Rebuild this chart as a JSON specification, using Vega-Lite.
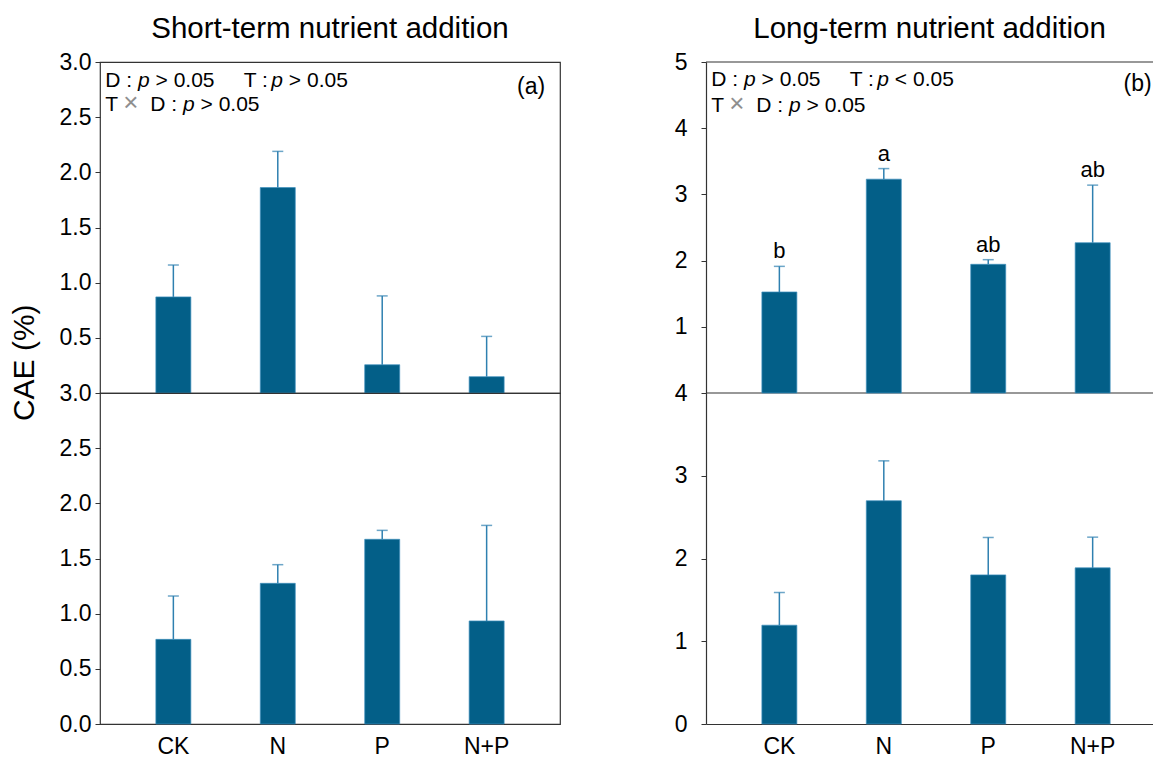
{
  "$schema": "https://vega.github.io/schema/vega-lite/v6.json",
  "padding": {"left": 10, "top": 12, "right": 0, "bottom": 0},
  "autosize": {"type": "pad"},
  "background": "white",
  "datasets": {
    "bars": [
      {"panel": "S1", "cat": "CK", "mean": 0.871, "upper": 1.16, "sig": ""},
      {"panel": "S1", "cat": "N", "mean": 1.862, "upper": 2.19, "sig": ""},
      {"panel": "S1", "cat": "P", "mean": 0.256, "upper": 0.88, "sig": ""},
      {"panel": "S1", "cat": "N+P", "mean": 0.148, "upper": 0.513, "sig": ""},
      {"panel": "S2", "cat": "CK", "mean": 0.767, "upper": 1.16, "sig": ""},
      {"panel": "S2", "cat": "N", "mean": 1.275, "upper": 1.444, "sig": ""},
      {"panel": "S2", "cat": "P", "mean": 1.674, "upper": 1.755, "sig": ""},
      {"panel": "S2", "cat": "N+P", "mean": 0.934, "upper": 1.8, "sig": ""},
      {"panel": "L1", "cat": "CK", "mean": 1.526, "upper": 1.913, "sig": "b"},
      {"panel": "L1", "cat": "N", "mean": 3.23, "upper": 3.39, "sig": "a"},
      {"panel": "L1", "cat": "P", "mean": 1.944, "upper": 2.014, "sig": "ab"},
      {"panel": "L1", "cat": "N+P", "mean": 2.27, "upper": 3.14, "sig": "ab"},
      {"panel": "L2", "cat": "CK", "mean": 1.194, "upper": 1.589, "sig": ""},
      {"panel": "L2", "cat": "N", "mean": 2.698, "upper": 3.18, "sig": ""},
      {"panel": "L2", "cat": "P", "mean": 1.802, "upper": 2.254, "sig": ""},
      {"panel": "L2", "cat": "N+P", "mean": 1.887, "upper": 2.258, "sig": ""}
    ],
    "one": [{"k": 1}]
  },
  "spacing": 113,
  "hconcat": [
    {
      "title": {"text": "CAE (%)", "orient": "left", "fontSize": 30, "offset": 18, "frame": "bounds", "anchor": "middle", "dx": 23},
      "spacing": 0,
      "bounds": "flush",
      "vconcat": [
        {
          "width": 460, "height": 331,
          "title": {"text": "Short-term nutrient addition"},
          "layer": [
            {
              "data": {"name": "bars"}, "transform": [{"filter": "datum.panel === 'S1'"}],
              "mark": {"type": "bar", "fill": "#035f88", "stroke": "#3f8fbd", "strokeWidth": 0.7},
              "encoding": {
                "x": {"field": "cat", "type": "nominal", "scale": {"domain": ["CK", "N", "P", "N+P"], "paddingInner": 0.665, "paddingOuter": 0.535}, "axis": null},
                "y": {"field": "mean", "type": "quantitative", "title": null, "scale": {"domain": [0, 3], "nice": false}, "axis": {"values": [0.5, 1, 1.5, 2, 2.5, 3], "format": ".1f", "labelPadding": 4}}
              }
            },
            {
              "data": {"name": "bars"}, "transform": [{"filter": "datum.panel === 'S1'"}],
              "mark": {"type": "rule", "color": "#2f80b0", "strokeWidth": 1.5},
              "encoding": {"x": {"field": "cat", "type": "nominal"}, "y": {"field": "mean", "type": "quantitative"}, "y2": {"field": "upper"}}
            },
            {
              "data": {"name": "bars"}, "transform": [{"filter": "datum.panel === 'S1'"}],
              "mark": {"type": "tick", "color": "#2f80b0", "thickness": 1.5, "size": 11},
              "encoding": {"x": {"field": "cat", "type": "nominal"}, "y": {"field": "upper", "type": "quantitative"}}
            },
            {"data": {"name": "one"}, "mark": {"type": "text", "align": "left", "fontSize": 21, "dx": -68}, "encoding": {"x": {"datum": "CK"}, "y": {"datum": 2.773}, "text": {"value": "D :"}}},
            {"data": {"name": "one"}, "mark": {"type": "text", "align": "left", "fontSize": 21, "dx": -35.3, "fontStyle": "italic"}, "encoding": {"x": {"datum": "CK"}, "y": {"datum": 2.773}, "text": {"value": "p"}}},
            {"data": {"name": "one"}, "mark": {"type": "text", "align": "left", "fontSize": 21, "dx": -17.8}, "encoding": {"x": {"datum": "CK"}, "y": {"datum": 2.773}, "text": {"value": "> 0.05"}}},
            {"data": {"name": "one"}, "mark": {"type": "text", "align": "left", "fontSize": 21, "dx": 70.3}, "encoding": {"x": {"datum": "CK"}, "y": {"datum": 2.773}, "text": {"value": "T :"}}},
            {"data": {"name": "one"}, "mark": {"type": "text", "align": "left", "fontSize": 21, "dx": 98, "fontStyle": "italic"}, "encoding": {"x": {"datum": "CK"}, "y": {"datum": 2.773}, "text": {"value": "p"}}},
            {"data": {"name": "one"}, "mark": {"type": "text", "align": "left", "fontSize": 21, "dx": 115.5}, "encoding": {"x": {"datum": "CK"}, "y": {"datum": 2.773}, "text": {"value": "> 0.05"}}},
            {"data": {"name": "one"}, "mark": {"type": "text", "align": "left", "fontSize": 21, "dx": -68}, "encoding": {"x": {"datum": "CK"}, "y": {"datum": 2.555}, "text": {"value": "T"}}},
            {"data": {"name": "one"}, "mark": {"type": "text", "align": "left", "fontSize": 26, "dx": -50, "color": "#8f8f8f"}, "encoding": {"x": {"datum": "CK"}, "y": {"datum": 2.555}, "text": {"value": "×"}}},
            {"data": {"name": "one"}, "mark": {"type": "text", "align": "left", "fontSize": 21, "dx": -23}, "encoding": {"x": {"datum": "CK"}, "y": {"datum": 2.555}, "text": {"value": "D :"}}},
            {"data": {"name": "one"}, "mark": {"type": "text", "align": "left", "fontSize": 21, "dx": 9.7, "fontStyle": "italic"}, "encoding": {"x": {"datum": "CK"}, "y": {"datum": 2.555}, "text": {"value": "p"}}},
            {"data": {"name": "one"}, "mark": {"type": "text", "align": "left", "fontSize": 21, "dx": 27.2}, "encoding": {"x": {"datum": "CK"}, "y": {"datum": 2.555}, "text": {"value": "> 0.05"}}},
            {"data": {"name": "one"}, "mark": {"type": "text", "align": "right", "fontSize": 23, "dx": 58.5}, "encoding": {"x": {"datum": "N+P"}, "y": {"datum": 2.71}, "text": {"value": "(a)"}}}
          ]
        },
        {
          "width": 460, "height": 331,
          "layer": [
            {
              "data": {"name": "bars"}, "transform": [{"filter": "datum.panel === 'S2'"}],
              "mark": {"type": "bar", "fill": "#035f88", "stroke": "#3f8fbd", "strokeWidth": 0.7},
              "encoding": {
                "x": {"field": "cat", "type": "nominal", "title": null, "scale": {"domain": ["CK", "N", "P", "N+P"], "paddingInner": 0.665, "paddingOuter": 0.535}, "axis": {"labelAngle": 0, "ticks": false, "domain": false, "labelPadding": 11}},
                "y": {"field": "mean", "type": "quantitative", "title": null, "scale": {"domain": [0, 3], "nice": false}, "axis": {"values": [0, 0.5, 1, 1.5, 2, 2.5, 3], "format": ".1f", "labelPadding": 4}}
              }
            },
            {
              "data": {"name": "bars"}, "transform": [{"filter": "datum.panel === 'S2'"}],
              "mark": {"type": "rule", "color": "#2f80b0", "strokeWidth": 1.5},
              "encoding": {"x": {"field": "cat", "type": "nominal"}, "y": {"field": "mean", "type": "quantitative"}, "y2": {"field": "upper"}}
            },
            {
              "data": {"name": "bars"}, "transform": [{"filter": "datum.panel === 'S2'"}],
              "mark": {"type": "tick", "color": "#2f80b0", "thickness": 1.5, "size": 11},
              "encoding": {"x": {"field": "cat", "type": "nominal"}, "y": {"field": "upper", "type": "quantitative"}}
            }
          ]
        }
      ]
    },
    {
      "spacing": 0,
      "bounds": "flush",
      "vconcat": [
        {
          "width": 447, "height": 331,
          "view": {"stroke": null},
          "title": {"text": "Long-term nutrient addition"},
          "layer": [
            {"data": {"name": "one"}, "mark": {"type": "rule", "color": "#333", "strokeWidth": 1.2}, "encoding": {"y": {"datum": 5}}},
            {"data": {"name": "one"}, "mark": {"type": "rule", "color": "#333", "strokeWidth": 1.2}, "encoding": {"y": {"datum": 0}}},
            {
              "data": {"name": "bars"}, "transform": [{"filter": "datum.panel === 'L1'"}],
              "mark": {"type": "bar", "fill": "#035f88", "stroke": "#3f8fbd", "strokeWidth": 0.7},
              "encoding": {
                "x": {"field": "cat", "type": "nominal", "scale": {"domain": ["CK", "N", "P", "N+P"], "paddingInner": 0.665, "paddingOuter": 0.4727, "align": 0.566}, "axis": null},
                "y": {"field": "mean", "type": "quantitative", "title": null, "scale": {"domain": [0, 5], "nice": false}, "axis": {"values": [1, 2, 3, 4, 5], "format": "d", "labelPadding": 14, "domain": true}}
              }
            },
            {
              "data": {"name": "bars"}, "transform": [{"filter": "datum.panel === 'L1'"}],
              "mark": {"type": "rule", "color": "#2f80b0", "strokeWidth": 1.5},
              "encoding": {"x": {"field": "cat", "type": "nominal"}, "y": {"field": "mean", "type": "quantitative"}, "y2": {"field": "upper"}}
            },
            {
              "data": {"name": "bars"}, "transform": [{"filter": "datum.panel === 'L1'"}],
              "mark": {"type": "tick", "color": "#2f80b0", "thickness": 1.5, "size": 11},
              "encoding": {"x": {"field": "cat", "type": "nominal"}, "y": {"field": "upper", "type": "quantitative"}}
            },
            {
              "data": {"name": "bars"}, "transform": [{"filter": "datum.panel === 'L1'"}],
              "mark": {"type": "text", "fontSize": 22, "dy": -8, "baseline": "alphabetic"},
              "encoding": {"x": {"field": "cat", "type": "nominal"}, "y": {"field": "upper", "type": "quantitative"}, "text": {"field": "sig"}}
            },
            {"data": {"name": "one"}, "mark": {"type": "text", "align": "left", "fontSize": 21, "dx": -68}, "encoding": {"x": {"datum": "CK"}, "y": {"datum": 4.63}, "text": {"value": "D :"}}},
            {"data": {"name": "one"}, "mark": {"type": "text", "align": "left", "fontSize": 21, "dx": -35.3, "fontStyle": "italic"}, "encoding": {"x": {"datum": "CK"}, "y": {"datum": 4.63}, "text": {"value": "p"}}},
            {"data": {"name": "one"}, "mark": {"type": "text", "align": "left", "fontSize": 21, "dx": -17.8}, "encoding": {"x": {"datum": "CK"}, "y": {"datum": 4.63}, "text": {"value": "> 0.05"}}},
            {"data": {"name": "one"}, "mark": {"type": "text", "align": "left", "fontSize": 21, "dx": 70.3}, "encoding": {"x": {"datum": "CK"}, "y": {"datum": 4.63}, "text": {"value": "T :"}}},
            {"data": {"name": "one"}, "mark": {"type": "text", "align": "left", "fontSize": 21, "dx": 98, "fontStyle": "italic"}, "encoding": {"x": {"datum": "CK"}, "y": {"datum": 4.63}, "text": {"value": "p"}}},
            {"data": {"name": "one"}, "mark": {"type": "text", "align": "left", "fontSize": 21, "dx": 115.5}, "encoding": {"x": {"datum": "CK"}, "y": {"datum": 4.63}, "text": {"value": "< 0.05"}}},
            {"data": {"name": "one"}, "mark": {"type": "text", "align": "left", "fontSize": 21, "dx": -68}, "encoding": {"x": {"datum": "CK"}, "y": {"datum": 4.24}, "text": {"value": "T"}}},
            {"data": {"name": "one"}, "mark": {"type": "text", "align": "left", "fontSize": 26, "dx": -50, "color": "#8f8f8f"}, "encoding": {"x": {"datum": "CK"}, "y": {"datum": 4.24}, "text": {"value": "×"}}},
            {"data": {"name": "one"}, "mark": {"type": "text", "align": "left", "fontSize": 21, "dx": -23}, "encoding": {"x": {"datum": "CK"}, "y": {"datum": 4.24}, "text": {"value": "D :"}}},
            {"data": {"name": "one"}, "mark": {"type": "text", "align": "left", "fontSize": 21, "dx": 9.7, "fontStyle": "italic"}, "encoding": {"x": {"datum": "CK"}, "y": {"datum": 4.24}, "text": {"value": "p"}}},
            {"data": {"name": "one"}, "mark": {"type": "text", "align": "left", "fontSize": 21, "dx": 27.2}, "encoding": {"x": {"datum": "CK"}, "y": {"datum": 4.24}, "text": {"value": "> 0.05"}}},
            {"data": {"name": "one"}, "mark": {"type": "text", "align": "right", "fontSize": 23, "dx": 59}, "encoding": {"x": {"datum": "N+P"}, "y": {"datum": 4.56}, "text": {"value": "(b)"}}}
          ]
        },
        {
          "width": 447, "height": 331,
          "view": {"stroke": null},
          "layer": [
            {
              "data": {"name": "bars"}, "transform": [{"filter": "datum.panel === 'L2'"}],
              "mark": {"type": "bar", "fill": "#035f88", "stroke": "#3f8fbd", "strokeWidth": 0.7},
              "encoding": {
                "x": {"field": "cat", "type": "nominal", "title": null, "scale": {"domain": ["CK", "N", "P", "N+P"], "paddingInner": 0.665, "paddingOuter": 0.4727, "align": 0.566}, "axis": {"labelAngle": 0, "ticks": false, "domain": true, "labelPadding": 11}},
                "y": {"field": "mean", "type": "quantitative", "title": null, "scale": {"domain": [0, 4], "nice": false}, "axis": {"values": [0, 1, 2, 3, 4], "format": "d", "labelPadding": 14, "domain": true}}
              }
            },
            {
              "data": {"name": "bars"}, "transform": [{"filter": "datum.panel === 'L2'"}],
              "mark": {"type": "rule", "color": "#2f80b0", "strokeWidth": 1.5},
              "encoding": {"x": {"field": "cat", "type": "nominal"}, "y": {"field": "mean", "type": "quantitative"}, "y2": {"field": "upper"}}
            },
            {
              "data": {"name": "bars"}, "transform": [{"filter": "datum.panel === 'L2'"}],
              "mark": {"type": "tick", "color": "#2f80b0", "thickness": 1.5, "size": 11},
              "encoding": {"x": {"field": "cat", "type": "nominal"}, "y": {"field": "upper", "type": "quantitative"}}
            }
          ]
        }
      ]
    }
  ],
  "config": {
    "font": "Liberation Sans",
    "view": {"stroke": "#333", "strokeWidth": 1.2},
    "axis": {"labelFont": "Liberation Sans", "labelFontSize": 23, "labelColor": "#000", "grid": false, "tickColor": "#333", "tickSize": 5, "domain": false, "domainColor": "#333", "domainWidth": 1.2},
    "title": {"font": "Liberation Sans", "fontSize": 29.5, "fontWeight": "normal", "color": "#000", "offset": 7, "anchor": "middle"},
    "text": {"font": "Liberation Sans", "color": "#000", "baseline": "alphabetic"}
  }
}
